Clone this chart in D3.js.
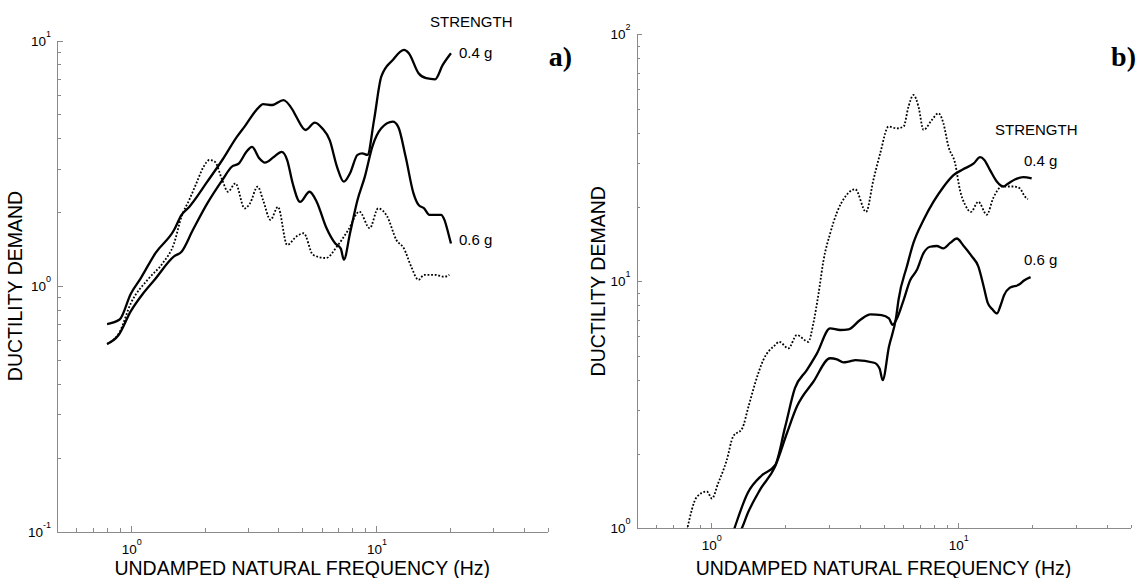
<!DOCTYPE html>
<html>
<head>
<meta charset="utf-8">
<script src="https://cdn.jsdelivr.net/npm/d3@7"></script>
<style>
  body { margin: 0; background: #fff; }
  text { font-family: "Liberation Sans", Arial, sans-serif; fill: #000; }
  .axis path, .axis line { stroke: #8a8a8a; stroke-width: 1; shape-rendering: crispEdges; }
</style>
</head>
<body>
<svg id="chart" width="1146" height="578"></svg>
<script>
// panel a) : frequency (Hz), ductility demand
var a04 = [[0.8,0.70],[0.9,0.73],[1.0,0.93],[1.1,1.08],[1.26,1.36],[1.5,1.69],[1.61,1.95],[1.73,2.10],
  [2.05,2.66],[2.36,3.26],[2.71,4.06],[2.91,4.46],[3.34,5.37],[3.46,5.51],[3.77,5.46],[4.19,5.72],
  [4.57,5.21],[4.73,4.89],[5.16,4.32],[5.63,4.63],[6.03,4.39],[6.47,3.93],[6.93,3.06],[7.39,2.66],
  [7.83,2.88],[8.40,3.42],[8.78,3.47],[9.22,3.42],[9.81,4.74],[10.5,7.12],[11.7,8.33],[13.0,9.15],
  [13.6,8.87],[14.9,7.35],[16.0,7.02],[17.4,6.95],[18.7,7.95],[20.2,8.87]];
var a06 = [[0.8,0.58],[0.89,0.63],[1.0,0.79],[1.12,0.93],[1.25,1.06],[1.5,1.32],[1.61,1.38],[1.79,1.69],
  [2.05,2.17],[2.36,2.70],[2.58,3.06],[2.76,3.16],[2.96,3.52],[3.12,3.69],[3.34,3.31],[3.52,3.18],
  [3.84,3.36],[4.12,3.52],[4.34,3.26],[4.57,2.62],[4.90,2.20],[5.35,2.42],[5.73,2.20],[6.25,1.74],
  [6.82,1.49],[7.18,1.42],[7.39,1.28],[7.83,1.64],[8.40,2.24],[9.0,2.79],[9.65,3.69],[10.5,4.39],
  [11.7,4.67],[12.3,4.46],[13.2,3.36],[14.2,2.39],[14.9,2.14],[15.7,2.07],[16.5,1.95],[18.4,1.95],
  [19.0,1.86],[19.7,1.64],[20.2,1.49]];
var aDot = [[0.8,0.58],[0.9,0.65],[1.0,0.85],[1.18,1.07],[1.35,1.24],[1.5,1.49],[1.61,1.92],[1.73,2.24],
  [1.85,2.62],[1.98,3.06],[2.09,3.26],[2.20,3.21],[2.36,2.70],[2.49,2.42],[2.67,2.62],[2.91,2.07],
  [3.06,2.17],[3.29,2.54],[3.46,2.24],[3.71,1.86],[3.98,2.10],[4.34,1.47],[4.73,1.59],[5.07,1.64],
  [5.53,1.34],[6.25,1.30],[6.93,1.45],[7.70,1.69],[8.55,2.01],[9.42,1.72],[10.2,2.07],[11.1,1.92],
  [12.1,1.54],[13.0,1.42],[13.9,1.20],[14.9,1.06],[15.7,1.11],[17.4,1.11],[19.0,1.09],[19.9,1.11]];

// panel b)
var b04 = [[1.28,0.93],[1.335,1.0],[1.41,1.15],[1.58,1.43],[1.82,1.78],[2.03,2.42],[2.23,3.11],[2.60,3.92],
  [3.04,4.88],[3.24,4.83],[3.44,4.70],[3.61,4.73],[3.86,4.80],[4.58,4.68],[4.82,4.44],[4.96,3.98],
  [5.26,5.43],[5.63,7.19],[5.75,8.40],[6.22,11.5],[6.61,14.3],[7.26,17.7],[7.97,21.0],[8.74,24.1],
  [9.60,26.9],[10.5,28.4],[11.6,30.0],[12.3,31.8],[12.8,31.0],[13.5,28.2],[14.4,25.3],[15.3,24.2],
  [16.0,24.9],[17.1,25.9],[18.4,26.4],[19.9,26.1]];
var b06 = [[1.22,0.94],[1.246,1.0],[1.41,1.39],[1.61,1.64],[1.82,1.80],[2.0,2.58],[2.19,3.69],[2.45,4.38],
  [2.69,5.11],[3.04,6.45],[3.34,6.35],[3.61,6.39],[4.02,6.97],[4.43,7.35],[4.91,7.30],[5.26,7.08],
  [5.44,6.66],[5.63,6.97],[6.03,8.4],[6.41,10.1],[6.82,11.1],[7.26,13.0],[7.72,13.8],[8.22,13.9],
  [8.74,13.6],[9.31,14.3],[9.91,14.9],[10.5,14.0],[11.4,12.6],[12.1,11.5],[12.7,9.6],[13.2,8.2],
  [13.8,7.7],[14.4,7.41],[14.9,8.0],[15.4,8.8],[16.2,9.4],[17.7,9.7],[18.6,10.1],[19.7,10.4]];
var bDot = [[0.8,0.98],[0.878,1.34],[0.963,1.41],[1.01,1.32],[1.07,1.52],[1.16,1.89],[1.23,2.35],[1.34,2.54],
  [1.42,3.11],[1.51,3.86],[1.63,4.80],[1.82,5.52],[1.89,5.69],[2.06,5.35],[2.23,6.06],[2.48,5.69],
  [2.60,6.76],[2.73,8.94],[2.86,12.2],[3.04,15.6],[3.24,19.0],[3.50,22.0],[3.84,23.6],[4.25,19.1],
  [4.55,25.7],[4.85,33.0],[5.24,42.3],[5.66,41.6],[6.03,42.3],[6.31,50.9],[6.61,56.8],[6.93,50.9],
  [7.26,41.0],[7.85,45.0],[8.35,47.9],[8.74,43.6],[9.16,35.1],[9.75,30.0],[10.2,23.4],[10.7,20.4],
  [11.3,19.1],[12.1,21.0],[13.1,18.6],[13.9,21.7],[15.1,24.2],[16.8,24.2],[17.8,23.8],[18.7,22.0],[19.2,21.5]];

var xDomain = [0.5, 50];
var xMajor = [1, 10];
var yDomainA = [0.1, 10], yMajorA = [0.1, 1, 10];
var yDomainB = [1, 100], yMajorB = [1, 10, 100];
var strengthLabels = ["0.4 g", "0.6 g"];

var svg = d3.select("#chart");

function minorTicks(domain) {
  var out = [];
  var lo = Math.floor(Math.log10(domain[0])), hi = Math.ceil(Math.log10(domain[1]));
  for (var e = lo; e < hi; e++) {
    for (var m = 1; m < 10; m++) {
      var v = m * Math.pow(10, e);
      if (v >= domain[0] - 1e-9 && v <= domain[1] + 1e-9) out.push(v);
    }
  }
  return out;
}

function panel(cfg) {
  var x = d3.scaleLog().domain(xDomain).range([cfg.left, cfg.right]);
  var y = d3.scaleLog().domain(cfg.yDomain).range([cfg.bottom, cfg.top]);
  var g = svg.append("g");

  g.append("clipPath").attr("id", "clip-" + cfg.id)
    .append("rect")
      .attr("x", cfg.left).attr("y", cfg.top)
      .attr("width", cfg.right - cfg.left).attr("height", cfg.bottom - cfg.top);

  // x axis, ticks inward
  g.append("g").attr("class", "axis")
      .attr("transform", "translate(0," + cfg.bottom + ")")
      .call(d3.axisBottom(x).tickValues(minorTicks(xDomain)).tickSize(-3.5).tickSizeOuter(0).tickFormat(""));
  g.append("g").attr("class", "axis")
      .attr("transform", "translate(0," + cfg.bottom + ")")
      .call(d3.axisBottom(x).tickValues(xMajor).tickSize(-5.5).tickSizeOuter(0).tickFormat(""));

  // y axis, ticks inward
  g.append("g").attr("class", "axis")
      .attr("transform", "translate(" + cfg.left + ",0)")
      .call(d3.axisLeft(y).tickValues(minorTicks(cfg.yDomain)).tickSize(-3.5).tickSizeOuter(0).tickFormat(""));
  g.append("g").attr("class", "axis")
      .attr("transform", "translate(" + cfg.left + ",0)")
      .call(d3.axisLeft(y).tickValues(cfg.yMajor).tickSize(-5.5).tickSizeOuter(0).tickFormat(""));

  // power-of-ten labels
  xMajor.forEach(function(v) {
    var t = g.append("text").attr("x", x(v) + 1).attr("y", cfg.bottom + 22)
      .attr("text-anchor", "middle").style("font-size", "13.5px");
    t.append("tspan").text("10");
    t.append("tspan").attr("dy", -9).style("font-size", "9px").text(Math.round(Math.log10(v)));
  });
  cfg.yMajor.forEach(function(v) {
    var t = g.append("text").attr("x", cfg.left - 6).attr("y", y(v) + 5)
      .attr("text-anchor", "end").style("font-size", "13.5px");
    t.append("tspan").text("10");
    t.append("tspan").attr("dy", -9).style("font-size", "9px").text(Math.round(Math.log10(v)));
  });

  var line = d3.line()
      .x(function(d) { return x(d[0]); })
      .y(function(d) { return y(d[1]); })
      .curve(d3.curveMonotoneX);

  var plot = g.append("g").attr("clip-path", "url(#clip-" + cfg.id + ")");
  plot.append("path").datum(cfg.dotted).attr("d", line)
      .attr("fill", "none").attr("stroke", "#000").attr("stroke-width", 1.8)
      .attr("stroke-dasharray", "1.8,1.8");
  cfg.solid.forEach(function(s) {
    plot.append("path").datum(s).attr("d", line)
        .attr("fill", "none").attr("stroke", "#000").attr("stroke-width", 2.3)
        .attr("stroke-linejoin", "round");
  });

  // axis titles
  g.append("text")
      .attr("transform", "translate(" + cfg.yTitleX + "," + ((cfg.top + cfg.bottom) / 2) + ") rotate(-90)")
      .attr("text-anchor", "middle").style("font-size", "19.5px")
      .text("DUCTILITY DEMAND");
  g.append("text")
      .attr("x", (cfg.left + cfg.right) / 2).attr("y", 575)
      .attr("text-anchor", "middle").style("font-size", "19.5px")
      .text("UNDAMPED NATURAL FREQUENCY (Hz)");

  // strength annotations
  g.append("text").attr("x", cfg.strength[0]).attr("y", cfg.strength[1])
      .style("font-size", "15px").text("STRENGTH");
  strengthLabels.forEach(function(s, i) {
    g.append("text").attr("x", cfg.labelX).attr("y", cfg.labelY[i])
        .style("font-size", "15px").text(s);
  });

  g.append("text").attr("x", cfg.tagX).attr("y", 66)
      .attr("text-anchor", "end")
      .style("font-family", "'Liberation Serif', 'Times New Roman', serif")
      .style("font-weight", "bold").style("font-size", "28px")
      .text(cfg.id + ")");
}

panel({id: "a", left: 57, right: 547.5, top: 40.5, bottom: 531.5,
  yDomain: yDomainA, yMajor: yMajorA, solid: [a04, a06], dotted: aDot,
  yTitleX: 22, strength: [430, 27], labelX: 459, labelY: [58, 245], tagX: 572});

panel({id: "b", left: 636.5, right: 1130.5, top: 34.3, bottom: 528.3,
  yDomain: yDomainB, yMajor: yMajorB, solid: [b04, b06], dotted: bDot,
  yTitleX: 605, strength: [995, 135], labelX: 1024, labelY: [166, 265], tagX: 1136});
</script>
</body>
</html>
